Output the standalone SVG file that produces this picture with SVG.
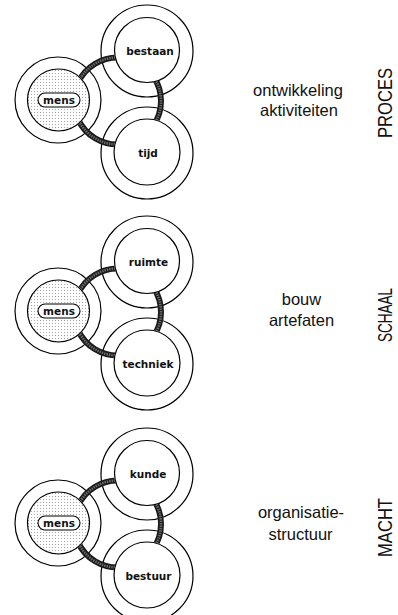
<svg xmlns="http://www.w3.org/2000/svg" width="398" height="615" viewBox="0 0 398 615">
  <style>
    .outer { fill: #fff; stroke: #000; stroke-width: 1.2; }
    .inner { fill: #fff; stroke: #000; stroke-width: 1.2; }
    .mens-in { fill: url(#dots); stroke: #000; stroke-width: 1.2; }
    .pill { fill: #fff; stroke: #000; stroke-width: 1.1; }
    .lbl { font-family: "DejaVu Sans", sans-serif; font-size: 10.5px; font-weight: bold; text-anchor: middle; fill: #111; }
    .pill-t { font-family: "DejaVu Sans", sans-serif; font-size: 10.5px; font-weight: bold; text-anchor: middle; fill: #111; }
    .band-edge { fill: none; stroke: #1a1a1a; stroke-width: 6; }
    .band-core { fill: none; stroke: #6e6e6e; stroke-width: 2.6; stroke-dasharray: 1.4 1; }
    .side { font-family: "Liberation Sans", Arial, sans-serif; font-size: 16.5px; text-anchor: middle; fill: #111; }
    .vert { font-family: "Liberation Sans", Arial, sans-serif; font-size: 17px; text-anchor: middle; fill: #111; }
  </style>
  <defs>
    <pattern id="dots" width="3" height="3" patternUnits="userSpaceOnUse">
      <rect width="3" height="3" fill="#fff"/>
      <circle cx="1.5" cy="1.5" r="0.5" fill="#8a8a8a"/>
    </pattern>
    <clipPath id="bandclip" clipPathUnits="userSpaceOnUse">
      <path clip-rule="evenodd" d="M0,-30 H398 V230 H0 Z
        M26.9,100 a31.6,31.6 0 1,0 63.2,0 a31.6,31.6 0 1,0 -63.2,0 Z
        M113.9,50 a33.1,33.1 0 1,0 66.2,0 a33.1,33.1 0 1,0 -66.2,0 Z
        M113.4,152 a33.6,33.6 0 1,0 67.2,0 a33.6,33.6 0 1,0 -67.2,0 Z"/>
    </clipPath>
  </defs>

  <!-- PROCES -->
  <g id="proces">
    <g id="mens-1">
      <circle class="outer" cx="58" cy="100" r="43"/>
      <circle class="mens-in" cx="58.5" cy="100" r="31"/>
      <rect class="pill" x="38" y="93" width="42" height="14" rx="7"/>
      <text class="pill-t" x="59" y="103.8">mens</text>
    </g>
    <g id="bestaan">
      <circle class="outer" cx="147" cy="51" r="46"/>
      <circle class="inner" cx="147" cy="50" r="32.5"/>
      <text class="lbl" x="150" y="55">bestaan</text>
    </g>
    <g id="tijd">
      <circle class="outer" cx="147" cy="153" r="46"/>
      <circle class="inner" cx="147" cy="152" r="33"/>
      <text class="lbl" x="148" y="156.5">tijd</text>
    </g>
    <g id="connectors-1" clip-path="url(#bandclip)">
      <path class="band-edge" d="M78.08,82.62 A43.5,43.5 0 0,1 119.78,57.56 M153.98,77.31 A43.5,43.5 0 0,1 153.98,124.69 M119.78,144.44 A43.5,43.5 0 0,1 78.08,119.38"/>
      <path class="band-core" d="M78.08,82.62 A43.5,43.5 0 0,1 119.78,57.56 M153.98,77.31 A43.5,43.5 0 0,1 153.98,124.69 M119.78,144.44 A43.5,43.5 0 0,1 78.08,119.38"/>
    </g>
    <g id="proces-text">
      <text class="side" x="298" y="96">ontwikkeling</text>
      <text class="side" x="299" y="116">aktiviteiten</text>
    </g>
    <text class="vert" transform="translate(392,103) rotate(-90) scale(1,1.15)" textLength="70" lengthAdjust="spacingAndGlyphs">PROCES</text>
  </g>

  <!-- SCHAAL -->
  <g id="schaal">
    <g transform="translate(0,211)">
      <g id="mens-2">
        <circle class="outer" cx="58" cy="100" r="43"/>
        <circle class="mens-in" cx="58.5" cy="100" r="31"/>
        <rect class="pill" x="38" y="93" width="42" height="14" rx="7"/>
        <text class="pill-t" x="59" y="103.8">mens</text>
      </g>
      <g id="ruimte">
        <circle class="outer" cx="147" cy="51" r="46"/>
        <circle class="inner" cx="147" cy="50" r="32.5"/>
        <text class="lbl" x="148.5" y="55">ruimte</text>
      </g>
      <g id="techniek">
        <circle class="outer" cx="147" cy="153" r="46"/>
        <circle class="inner" cx="147" cy="152" r="33"/>
        <text class="lbl" x="148" y="156.5">techniek</text>
      </g>
      <g id="connectors-2" clip-path="url(#bandclip)">
        <path class="band-edge" d="M78.08,82.62 A43.5,43.5 0 0,1 119.78,57.56 M153.98,77.31 A43.5,43.5 0 0,1 153.98,124.69 M119.78,144.44 A43.5,43.5 0 0,1 78.08,119.38"/>
        <path class="band-core" d="M78.08,82.62 A43.5,43.5 0 0,1 119.78,57.56 M153.98,77.31 A43.5,43.5 0 0,1 153.98,124.69 M119.78,144.44 A43.5,43.5 0 0,1 78.08,119.38"/>
      </g>
    </g>
    <g id="schaal-text">
      <text class="side" x="301.5" y="305">bouw</text>
      <text class="side" x="301.5" y="326">artefaten</text>
    </g>
    <text class="vert" transform="translate(392,315) rotate(-90) scale(1,1.15)" textLength="54" lengthAdjust="spacingAndGlyphs">SCHAAL</text>
  </g>

  <!-- MACHT -->
  <g id="macht">
    <g transform="translate(0,423)">
      <g id="mens-3">
        <circle class="outer" cx="58" cy="100" r="43"/>
        <circle class="mens-in" cx="58.5" cy="100" r="31"/>
        <rect class="pill" x="38" y="93" width="42" height="14" rx="7"/>
        <text class="pill-t" x="59" y="103.8">mens</text>
      </g>
      <g id="kunde">
        <circle class="outer" cx="147" cy="51" r="46"/>
        <circle class="inner" cx="147" cy="50" r="32.5"/>
        <text class="lbl" x="148" y="55">kunde</text>
      </g>
      <g id="bestuur">
        <circle class="outer" cx="147" cy="153" r="46"/>
        <circle class="inner" cx="147" cy="152" r="33"/>
        <text class="lbl" x="148.5" y="156.5">bestuur</text>
      </g>
      <g id="connectors-3" clip-path="url(#bandclip)">
        <path class="band-edge" d="M78.08,82.62 A43.5,43.5 0 0,1 119.78,57.56 M153.98,77.31 A43.5,43.5 0 0,1 153.98,124.69 M119.78,144.44 A43.5,43.5 0 0,1 78.08,119.38"/>
        <path class="band-core" d="M78.08,82.62 A43.5,43.5 0 0,1 119.78,57.56 M153.98,77.31 A43.5,43.5 0 0,1 153.98,124.69 M119.78,144.44 A43.5,43.5 0 0,1 78.08,119.38"/>
      </g>
    </g>
    <g id="macht-text">
      <text class="side" x="301" y="518">organisatie-</text>
      <text class="side" x="300.5" y="540">structuur</text>
    </g>
    <text class="vert" transform="translate(392,527.5) rotate(-90) scale(1,1.15)" textLength="59" lengthAdjust="spacingAndGlyphs">MACHT</text>
  </g>
</svg>
